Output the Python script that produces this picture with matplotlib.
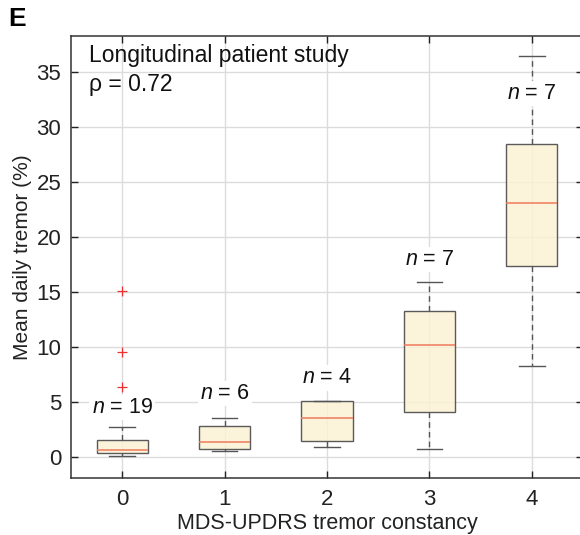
import matplotlib
matplotlib.use("Agg")
import matplotlib.pyplot as plt

plt.rcParams['font.family'] = ['Liberation Sans', 'DejaVu Sans']
plt.rcParams['mathtext.fontset'] = 'custom'
plt.rcParams['mathtext.rm'] = 'Liberation Sans'
plt.rcParams['mathtext.it'] = 'Liberation Sans:italic'

# Data
categories = [0, 1, 2, 3, 4]
whisker_low = [0.1, 0.57, 0.9, 0.76, 8.25]
q1 = [0.33, 0.7, 1.48, 4.12, 17.4]
median = [0.64, 1.34, 3.6, 10.24, 23.1]
q3 = [1.55, 2.85, 5.12, 13.27, 28.5]
whisker_high = [2.7, 3.55, 5.12, 15.9, 36.5]
outliers = [[6.4, 9.6, 15.1], [], [], [], []]
n_labels = ["19", "6", "4", "7", "7"]
n_label_y = [4.5, 5.8, 7.2, 18.0, 33.1]
yticks = [0, 5, 10, 15, 20, 25, 30, 35]

fig = plt.figure(figsize=(5.8, 5.35), dpi=100)
ax = fig.add_axes([71/580, 1-478/535, 512/580, (478-36)/535])

stats = []
for i in range(len(categories)):
    stats.append(dict(med=median[i], q1=q1[i], q3=q3[i],
                      whislo=whisker_low[i], whishi=whisker_high[i],
                      fliers=outliers[i]))

ax.bxp(stats, positions=categories, widths=0.5, patch_artist=True,
       boxprops=dict(facecolor=(0.985, 0.945, 0.83, 0.85), edgecolor='#5a5a5a', linewidth=1.0),
       medianprops=dict(color='#F07A5E', linewidth=1.1),
       whiskerprops=dict(color='#555555', linestyle=(0, (4, 3)), linewidth=1.0),
       capprops=dict(color='#555555', linewidth=1.0),
       capwidths=0.25,
       flierprops=dict(marker='+', markeredgecolor='#F03030', markersize=7,
                       markeredgewidth=0.9, linestyle='none'),
       zorder=2)

for x, lab, y in zip(categories, n_labels, n_label_y):
    ax.text(x, y, r'$n$ = ' + lab, ha='center', va='center', fontsize=15.5,
            color='#111111', zorder=4,
            bbox=dict(facecolor='white', edgecolor='none', pad=1.5))

ax.set_xlim(-0.5, 4.5)
ax.set_ylim(-1.9, 38.3)
ax.set_xticks(categories)
ax.set_yticks(yticks)
ax.grid(True, color='#dcdcdc', linewidth=1.0)
ax.set_axisbelow(True)
ax.tick_params(direction='in', length=5, width=1, top=True, right=True,
               labelsize=16, colors='#222222')
ax.tick_params(axis='x', pad=8)
ax.tick_params(axis='y', pad=7)
for s in ax.spines.values():
    s.set_linewidth(1.1)
    s.set_color('#333333')

ax.set_xlabel('MDS-UPDRS tremor constancy', fontsize=15.5, color='#222222', labelpad=2)
ax.set_ylabel('Mean daily tremor (%)', fontsize=15, color='#222222', labelpad=3)

ax.text(0.035, 0.955, 'Longitudinal patient study', transform=ax.transAxes,
        fontsize=16.5, ha='left', va='center', color='#111111', zorder=5)
ax.text(0.035, 0.89, 'ρ = 0.72', transform=ax.transAxes,
        fontsize=16.5, ha='left', va='center', color='#111111', zorder=5)

fig.text(8/580, 1-19/535, 'E', fontsize=19, fontweight='bold', ha='left', va='center')

fig.savefig('out.png', dpi=100)
